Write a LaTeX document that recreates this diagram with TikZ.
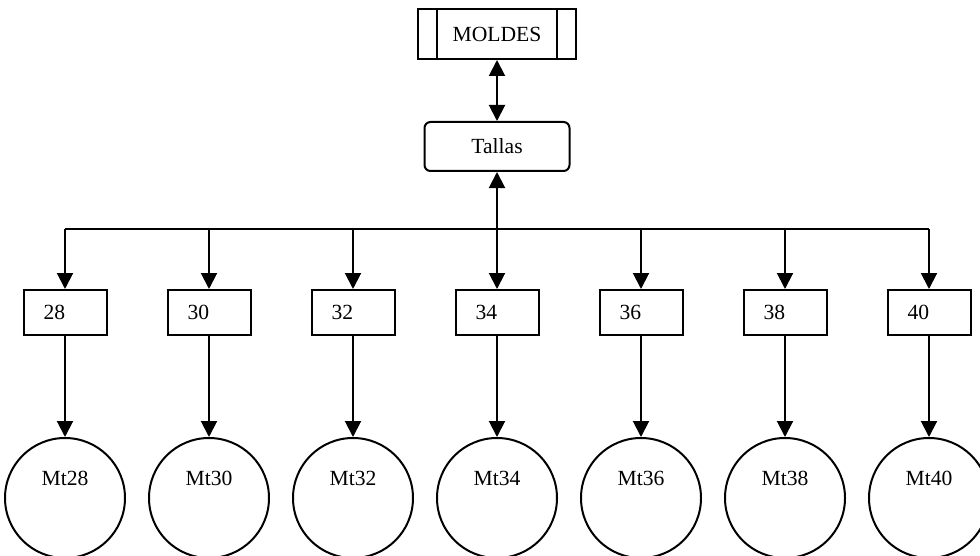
\documentclass[tikz,border=0pt]{standalone}
\usepackage{fontspec}
\setmainfont{Liberation Serif}
\usepackage{tikz}
\usetikzlibrary{arrows.meta,calc,positioning}

\begin{document}
\begin{tikzpicture}[
    x=0.5pt, y=-0.5pt,
    line width=1pt,
    font=\fontsize{10.8}{13}\selectfont,
    tip/.style={-{Triangle[length=8pt,width=8pt]}},
    dtip/.style={{Triangle[length=8pt,width=8pt]}-{Triangle[length=8pt,width=8pt]}},
    subproc/.style={draw, rectangle, minimum width=79pt, minimum height=25pt,
        path picture={
            \draw ([xshift=9.5pt]path picture bounding box.north west) -- ([xshift=9.5pt]path picture bounding box.south west);
            \draw ([xshift=-9.5pt]path picture bounding box.north east) -- ([xshift=-9.5pt]path picture bounding box.south east);
        }},
    rbox/.style={draw, rectangle, rounded corners=3pt, minimum width=72.5pt, minimum height=24.5pt},
    talla/.style={draw, rectangle, inner xsep=10pt, text width=21.5pt, align=left, minimum height=22.5pt},
    molde/.style={draw, circle, minimum size=60pt, text height=7pt, text depth=20pt, inner sep=0pt}]

\useasboundingbox (0,0) rectangle (980,556);

\node[subproc] (moldes) at (497,34) {MOLDES};
\node[rbox] (tallas) at (497,146.5) {Tallas};
\draw[dtip] (moldes) -- (tallas);

\coordinate (bus) at (497,229);

\foreach \t [count=\i from 0] in {28,30,32,34,36,38,40} {
    \node[talla] (s\t) at (65+144*\i,312.5) {\t};
    \node[molde] (m\t) at (65+144*\i,498) {Mt\t};
    \draw[tip] (s\t.north |- bus) -- (s\t.north);
    \draw[tip] (s\t) -- (m\t);
}

\draw (s28.north |- bus) -- (s40.north |- bus);
\draw[tip] (bus) -- (tallas);

\end{tikzpicture}
\end{document}
